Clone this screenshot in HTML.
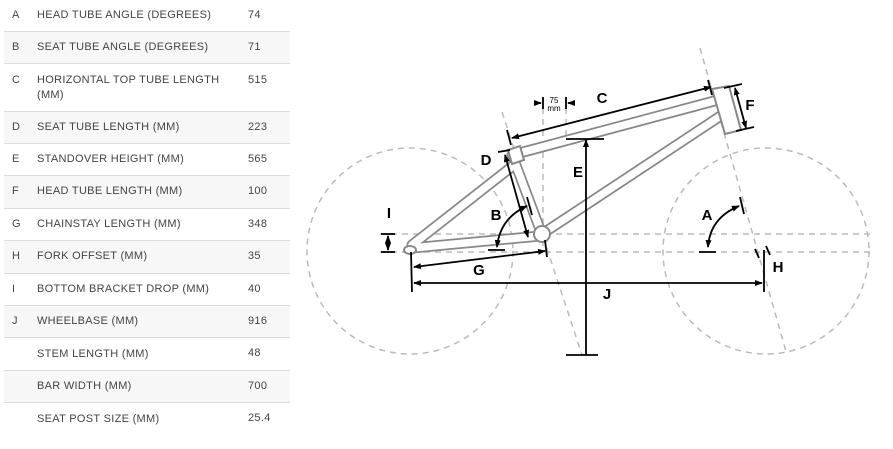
<!DOCTYPE html>
<html><head><meta charset="utf-8"><style>
body{margin:0;width:893px;height:449px;background:#fff;overflow:hidden;font-family:"Liberation Sans",sans-serif;}
.t{position:absolute;left:4px;top:0;width:286px;}
.r{position:relative;border-bottom:1px solid #ddd;font-size:11px;color:#444;letter-spacing:0.3px;}
.r.g{background:#f7f7f7;}
.r span{position:absolute;}
.a{left:8px}.b{left:33px;width:200px;line-height:15px}.c{left:244px}
svg{position:absolute;left:0;top:0}
</style></head><body>
<div class="t">
<div class="r" style="height:31px"><span class="a" style="top:9px">A</span><span class="b" style="top:8px">HEAD TUBE ANGLE (DEGREES)</span><span class="c" style="top:9px">74</span></div>
<div class="r g" style="height:31px"><span class="a" style="top:9px">B</span><span class="b" style="top:8px">SEAT TUBE ANGLE (DEGREES)</span><span class="c" style="top:9px">71</span></div>
<div class="r" style="height:47px"><span class="a" style="top:10px">C</span><span class="b" style="top:9px">HORIZONTAL TOP TUBE LENGTH (MM)</span><span class="c" style="top:10px">515</span></div>
<div class="r g" style="height:31px"><span class="a" style="top:9px">D</span><span class="b" style="top:8px">SEAT TUBE LENGTH (MM)</span><span class="c" style="top:9px">223</span></div>
<div class="r" style="height:31px"><span class="a" style="top:9px">E</span><span class="b" style="top:8px">STANDOVER HEIGHT (MM)</span><span class="c" style="top:9px">565</span></div>
<div class="r g" style="height:32px"><span class="a" style="top:9px">F</span><span class="b" style="top:8px">HEAD TUBE LENGTH (MM)</span><span class="c" style="top:9px">100</span></div>
<div class="r" style="height:31px"><span class="a" style="top:9px">G</span><span class="b" style="top:8px">CHAINSTAY LENGTH (MM)</span><span class="c" style="top:9px">348</span></div>
<div class="r g" style="height:32px"><span class="a" style="top:9px">H</span><span class="b" style="top:8px">FORK OFFSET (MM)</span><span class="c" style="top:9px">35</span></div>
<div class="r" style="height:31px"><span class="a" style="top:9px">I</span><span class="b" style="top:8px">BOTTOM BRACKET DROP (MM)</span><span class="c" style="top:9px">40</span></div>
<div class="r g" style="height:31px"><span class="a" style="top:9px">J</span><span class="b" style="top:8px">WHEELBASE (MM)</span><span class="c" style="top:9px">916</span></div>
<div class="r" style="height:32px"><span class="b" style="top:9px">STEM LENGTH (MM)</span><span class="c" style="top:9px">48</span></div>
<div class="r g" style="height:31px"><span class="b" style="top:8px">BAR WIDTH (MM)</span><span class="c" style="top:9px">700</span></div>
<div class="r" style="height:31px;border:none"><span class="b" style="top:9px">SEAT POST SIZE (MM)</span><span class="c" style="top:9px">25.4</span></div>
</div>
<svg width="893" height="449" viewBox="0 0 893 449">
<defs><marker id="ar" markerWidth="8" markerHeight="8" refX="7" refY="4" orient="auto-start-reverse" markerUnits="userSpaceOnUse"><path d="M0,1 L8,4 L0,7z" fill="#000"/></marker></defs>
<g fill="none" stroke="#bbb" stroke-width="1.5" stroke-dasharray="6,5">
<circle cx="410" cy="251" r="103"/><circle cx="766" cy="251" r="103"/>
<line x1="380" y1="234" x2="870" y2="234"/><line x1="380" y1="252" x2="870" y2="252"/>
<line x1="700" y1="48" x2="787" y2="355"/>
<line x1="502" y1="112" x2="582" y2="355"/>
<line x1="543" y1="97" x2="543" y2="250"/><line x1="566" y1="97" x2="566" y2="140"/>
</g>
<g fill="none" stroke="#888" stroke-width="11" stroke-linejoin="round" stroke-linecap="round">
<path d="M512,155 L718,100"/><path d="M545,232 L722,115"/><path d="M514,160 L541,232"/>
<path d="M514,165 L412,245"/><path d="M412,248 L540,236"/>
</g>
<g fill="none" stroke="#fff" stroke-width="7.5" stroke-linejoin="round" stroke-linecap="round">
<path d="M512,155 L718,100"/><path d="M545,232 L722,115"/><path d="M514,160 L541,232"/>
<path d="M514,165 L412,245"/><path d="M412,248 L540,236"/>
</g>
<path d="M712,89 L729,86 L741,130 L725,134z" fill="#fff" stroke="#888" stroke-width="2"/>
<path d="M508,150 L520,146 L524,160 L512,164z" fill="#fff" stroke="#888" stroke-width="2"/>
<circle cx="542" cy="234" r="8" fill="#fff" stroke="#888" stroke-width="2"/>
<ellipse cx="410" cy="250" rx="6" ry="4" fill="#fff" stroke="#888" stroke-width="2"/>
<g stroke="#000" stroke-width="1.8" fill="none">
<line x1="512" y1="138" x2="711" y2="87" marker-start="url(#ar)" marker-end="url(#ar)"/>
<line x1="507" y1="130" x2="511" y2="145"/><line x1="708" y1="80" x2="712" y2="95"/>
<line x1="735" y1="88" x2="746" y2="128" marker-start="url(#ar)" marker-end="url(#ar)"/>
<line x1="724" y1="88" x2="742" y2="84"/><line x1="736" y1="131" x2="754" y2="127"/>
<line x1="505" y1="155" x2="528" y2="237" marker-start="url(#ar)" marker-end="url(#ar)"/>
<line x1="498" y1="152" x2="510" y2="150"/>
<line x1="586" y1="355" x2="586" y2="140" marker-end="url(#ar)"/>
<line x1="566" y1="139" x2="604" y2="139"/><line x1="566" y1="355" x2="598" y2="355"/>
<line x1="534" y1="103" x2="541" y2="103" marker-end="url(#ar)"/><line x1="575" y1="103" x2="568" y2="103" marker-end="url(#ar)"/>
<line x1="543" y1="97" x2="543" y2="109"/><line x1="566" y1="97" x2="566" y2="109"/>
<path d="M497,247 Q500,218 527,206" marker-start="url(#ar)" marker-end="url(#ar)"/>
<line x1="527" y1="197" x2="532" y2="215"/><line x1="488" y1="250" x2="505" y2="250"/>
<line x1="414" y1="267" x2="545" y2="251" marker-start="url(#ar)" marker-end="url(#ar)"/>
<line x1="545" y1="240" x2="547" y2="257"/>
<line x1="411" y1="252" x2="412" y2="292"/>
<line x1="414" y1="283" x2="762" y2="283" marker-start="url(#ar)" marker-end="url(#ar)"/>
<line x1="764" y1="250" x2="764" y2="292"/>
<line x1="388" y1="236" x2="388" y2="250" marker-start="url(#ar)" marker-end="url(#ar)"/>
<line x1="381" y1="234" x2="395" y2="234"/><line x1="381" y1="252" x2="395" y2="252"/>
<path d="M708,247 Q710,218 739,206" marker-start="url(#ar)" marker-end="url(#ar)"/>
<line x1="740" y1="197" x2="744" y2="214"/><line x1="699" y1="252" x2="716" y2="252"/>
<line x1="755" y1="249" x2="759" y2="258"/><line x1="766" y1="246" x2="770" y2="255"/>
</g>
<g font-family="Liberation Sans,sans-serif" font-weight="bold" font-size="15" fill="#000" text-anchor="middle">
<text x="602" y="103">C</text><text x="750" y="110">F</text><text x="486" y="165">D</text>
<text x="578" y="177">E</text><text x="496" y="220">B</text><text x="479" y="275">G</text>
<text x="607" y="299">J</text><text x="389" y="218">I</text><text x="707" y="220">A</text><text x="778" y="272">H</text>
</g>
<text x="554" y="103" font-size="8" text-anchor="middle" font-family="Liberation Sans,sans-serif">75</text>
<text x="554" y="111" font-size="8" text-anchor="middle" font-family="Liberation Sans,sans-serif">mm</text>
</svg>
</body></html>
